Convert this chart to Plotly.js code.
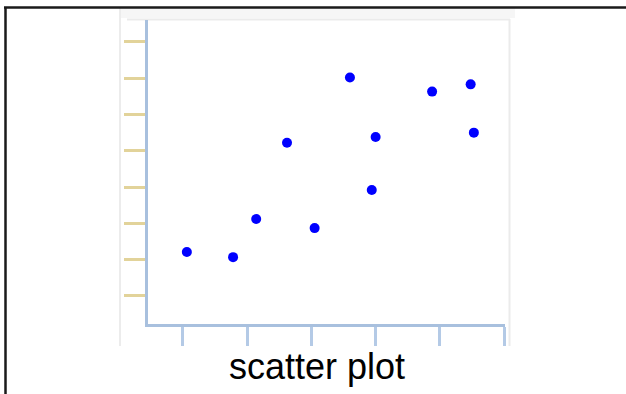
<!DOCTYPE html>
<html>
<head>
<meta charset="utf-8">
<script src="https://cdn.plot.ly/plotly-3.0.1.min.js"></script>
<style>
html,body{margin:0;padding:0;background:#fff;}
#chart{width:626px;height:394px;}
</style>
</head>
<body>
<div id="chart"></div>
<script>
// ---- data ----
const xValues = [1.06, 1.78, 2.14, 2.62, 3.05, 3.60, 4.00, 3.94, 4.88, 5.48, 5.53];
const yValues = [2.21, 2.07, 3.12, 5.22, 2.87, 7.02, 5.38, 3.92, 6.63, 6.83, 5.50];
const xTicks = [1, 2, 3, 4, 5, 6];
const yTicks = [1, 2, 3, 4, 5, 6, 7, 8];
const chartTitle = "scatter plot";

// ---- layout helpers (pixel -> paper) ----
const W = 626, H = 394;
const L = 148, R = 505, T = 20, B = 324;
const px = x => (x - L) / (R - L);
const py = y => (B - y) / (B - T);

const trace = {
  type: "scatter",
  mode: "markers",
  x: xValues,
  y: yValues,
  marker: {color: "#0000ff", size: 10, line: {width: 0}},
  hoverinfo: "x+y"
};

const layout = {
  width: W, height: H,
  margin: {l: L, r: W - R, t: T, b: H - B, pad: 0},
  paper_bgcolor: "#ffffff",
  plot_bgcolor: "rgba(0,0,0,0)",
  showlegend: false,
  xaxis: {
    range: [0.455, 6.015],
    tickvals: xTicks,
    showticklabels: false,
    ticks: "outside", ticklen: 19, tickwidth: 3, tickcolor: "#b4cae6",
    showline: true, linecolor: "#a8c0de", linewidth: 3,
    showgrid: false, zeroline: false, fixedrange: true
  },
  yaxis: {
    range: [0.228, 8.603],
    tickvals: yTicks,
    showticklabels: false,
    ticks: "outside", ticklen: 21, tickwidth: 3, tickcolor: "#e2d39a",
    showline: true, linecolor: "#a8c0de", linewidth: 3,
    showgrid: false, zeroline: false, fixedrange: true
  },
  shapes: [
    // light grey picture frame behind the chart
    {type: "rect", xref: "paper", yref: "paper", layer: "below",
     x0: px(119), x1: px(515), y0: py(8), y1: py(18),
     fillcolor: "#f6f6f6", line: {width: 0}},
    {type: "line", xref: "paper", yref: "paper", layer: "below",
     x0: px(120), x1: px(120), y0: py(8), y1: py(346),
     line: {color: "#ececec", width: 2}},
    {type: "line", xref: "paper", yref: "paper", layer: "below",
     x0: px(127), x1: px(510), y0: py(19.5), y1: py(19.5),
     line: {color: "#ebebeb", width: 2}},
    {type: "line", xref: "paper", yref: "paper", layer: "below",
     x0: px(509.5), x1: px(509.5), y0: py(19), y1: py(346),
     line: {color: "#ebebeb", width: 2}},
    // black page border (top and left)
    {type: "line", xref: "paper", yref: "paper",
     x0: px(4), x1: px(626), y0: py(7.5), y1: py(7.5),
     line: {color: "#1a1a1a", width: 2.5}},
    {type: "line", xref: "paper", yref: "paper",
     x0: px(5.5), x1: px(5.5), y0: py(7), y1: py(394),
     line: {color: "#1a1a1a", width: 2.5}}
  ],
  annotations: [{
    text: chartTitle, xref: "paper", yref: "paper",
    x: px(317), y: py(366), xanchor: "center", yanchor: "middle",
    showarrow: false,
    font: {family: "Liberation Sans, Arial, sans-serif", size: 36, color: "#000000"}
  }]
};

Plotly.newPlot("chart", [trace], layout, {displayModeBar: false, staticPlot: true});
</script>
</body>
</html>
